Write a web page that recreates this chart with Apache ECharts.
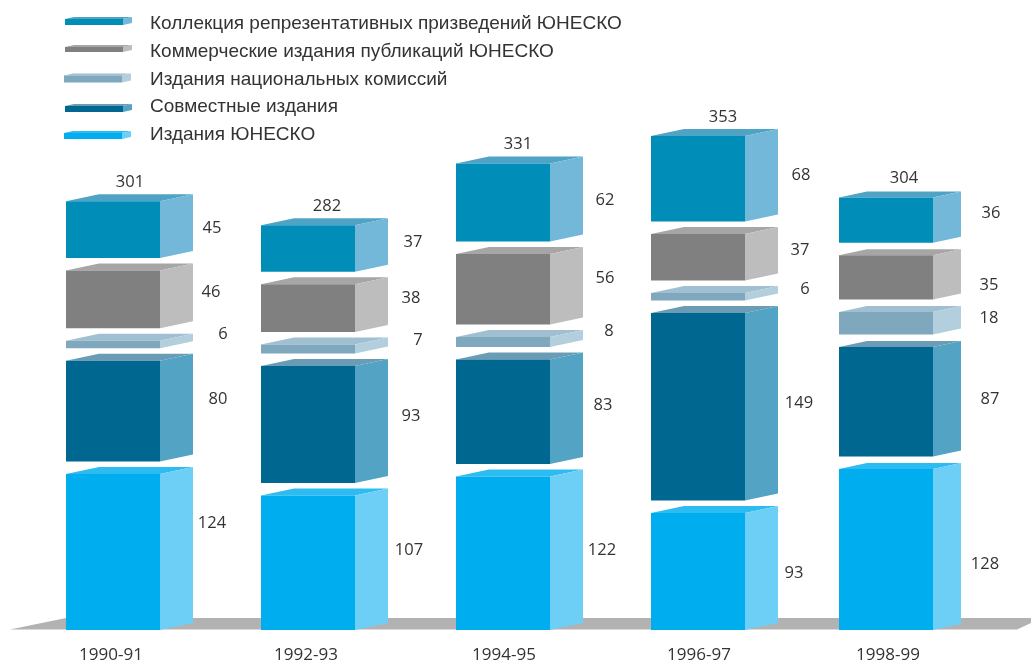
<!DOCTYPE html>
<html><head><meta charset="utf-8">
<style>html,body{margin:0;padding:0;background:#fff}#c{width:1031px;height:662px}</style>
<script src="https://cdn.jsdelivr.net/npm/echarts@6/dist/echarts.min.js"></script>
</head><body><div id="c"></div>
<script>
// ---- data ----
const periods = ['1990-91', '1992-93', '1994-95', '1996-97', '1998-99'];
const totals = [301, 282, 331, 353, 304];
const unescoEditions = [124, 107, 122, 93, 128];
const jointEditions = [80, 93, 83, 149, 87];
const nationalCommissions = [6, 7, 8, 6, 18];
const commercialEditions = [46, 38, 56, 37, 35];
const representativeCollection = [45, 37, 62, 68, 36];

// ---- names, bottom segment first ----
const layers = [
  {name: 'Издания ЮНЕСКО', values: unescoEditions, front: '#00aeef', side: '#6dcff6', top: '#2dbcf2'},
  {name: 'Совместные издания', values: jointEditions, front: '#006790', side: '#53a3c4', top: '#6a9db5'},
  {name: 'Издания национальных комиссий', values: nationalCommissions, front: '#7fa8bf', side: '#b3cedd', top: '#a0c0d1'},
  {name: 'Коммерческие издания публикаций ЮНЕСКО', values: commercialEditions, front: '#808080', side: '#bdbdbd', top: '#a6a6a6'},
  {name: 'Коллекция репрезентативных призведений ЮНЕСКО', values: representativeCollection, front: '#008db8', side: '#73b8d9', top: '#4fa3c5'}
];

// ---- drawing constants ----
const FONT = '"Open Sans", sans-serif';
const TEXT = '#333333';
const barW = 94, gapPx = 12.5;
const depthX = [33, 33, 33, 33, 28];
const depthY = [7, 7, 7, 7, 6];
const barShift = [0, 0, 0, 0, -7];
// hand placement of side labels, [dx from the side face, dy from the segment centre]
const sideNudge = [
  [[19, -29], [25, -12], [30, -10], [18, -7], [19, -1]],
  [[21, -12], [23, -8], [30, -9], [23, -10], [25, -6]],
  [[19, -3], [20, -7], [26, -11], [22, -11], [22, -2]],
  [[16, 2], [21, -3], [27, -7], [22, -7], [23, -3]],
  [[24, 15], [29, -2], [28, -5], [28, 8], [30, -7]]
];
const totalDx = [64, 66, 62, 72, 65];
const labelShift = [-2, -2, 1, 1, -5];

function makeRender(layerIndex) {
  const L = layers[layerIndex];
  return function (params, api) {
    const i = api.value(0), base = api.value(1), val = api.value(2);
    const cx = api.coord([i, 0])[0] + barShift[i];
    const x0 = cx - barW / 2, x1 = cx + barW / 2;
    const dX = depthX[i], dY = depthY[i];
    const yB = api.coord([i, base])[1] - layerIndex * gapPx;
    const yT = api.coord([i, base + val])[1] - layerIndex * gapPx;
    const poly = (pts, fill) => ({type: 'polygon', shape: {points: pts}, style: {fill}});
    const n = sideNudge[i][layerIndex];
    const children = [
      poly([[x0, yT], [x1, yT], [x1 + dX, yT - dY], [x0 + dX, yT - dY]], L.top),
      poly([[x1, yT], [x1 + dX, yT - dY], [x1 + dX, yB - dY], [x1, yB]], L.side),
      {type: 'rect', shape: {x: x0, y: yT, width: barW, height: yB - yT}, style: {fill: L.front}},
      {type: 'text', style: {
        text: String(val), x: x1 + dX + n[0], y: (yT + yB) / 2 + n[1],
        align: 'center', verticalAlign: 'middle', font: '16.5px ' + FONT, fill: TEXT}}
    ];
    if (layerIndex === layers.length - 1) {
      children.push({type: 'text', style: {
        text: String(totals[i]), x: x0 + totalDx[i], y: yT - 19,
        align: 'center', verticalAlign: 'middle', font: '16.5px ' + FONT, fill: TEXT}});
    }
    return {type: 'group', children};
  };
}

const running = periods.map(() => 0);
const series = layers.map((L, li) => {
  const data = L.values.map((v, i) => {
    const row = [i, running[i], v];
    running[i] += v;
    return row;
  });
  return {
    type: 'custom', name: L.name, data,
    encode: {x: 0, y: 2},
    itemStyle: {color: L.front},
    renderItem: makeRender(li),
    silent: true, clip: false
  };
});

// legend swatches: [left, front top, front height], top row first
const swatches = [[65, 19, 6], [65, 47, 5], [64, 75.5, 7], [65, 106, 6], [64, 133, 6]];
const legendGraphic = [];
layers.slice().reverse().forEach((L, k) => {
  const [x, y, h] = swatches[k];
  const x1 = x + 58;
  legendGraphic.push({type: 'polygon', z: 5, silent: true, shape: {points: [[x, y], [x1, y], [x1 + 9, y - 2], [x + 9, y - 2]]}, style: {fill: L.top}});
  legendGraphic.push({type: 'polygon', z: 5, silent: true, shape: {points: [[x1, y], [x1 + 9, y - 2], [x1 + 9, y + h - 2], [x1, y + h]]}, style: {fill: L.side}});
  legendGraphic.push({type: 'rect', z: 5, silent: true, shape: {x, y, width: 58, height: h}, style: {fill: L.front}});
});

const chart = echarts.init(document.getElementById('c'), null, {renderer: 'canvas'});
chart.setOption({
  animation: false,
  backgroundColor: '#ffffff',
  grid: {left: 15.5, right: 40.5, top: 1, bottom: 32, containLabel: false, outerBoundsMode: 'none'},
  xAxis: {
    type: 'category', data: periods,
    axisLine: {show: false}, axisTick: {show: false}, splitLine: {show: false},
    axisLabel: {
      margin: 17, interval: 0, color: TEXT, fontFamily: FONT, fontSize: 17,
      formatter: (v, i) => '{s' + i + '|' + v + '}',
      rich: Object.fromEntries(labelShift.map((d, i) => ['s' + i, {
        fontFamily: FONT, fontSize: 17, color: TEXT,
        padding: d < 0 ? [0, -2 * d, 0, 0] : [0, 0, 0, 2 * d]
      }]))
    }
  },
  yAxis: {type: 'value', min: 0, max: 500, show: false},
  legend: {
    show: true, orient: 'vertical', left: 60, top: 9,
    data: layers.map(L => L.name).reverse(),
    icon: 'rect', itemWidth: 58, itemHeight: 6, itemGap: 7.75,
    itemStyle: {opacity: 0},
    selectedMode: false,
    textStyle: {color: TEXT, fontFamily: '"Liberation Sans", Arial, sans-serif', fontSize: 19, lineHeight: 20, padding: [0, 0, 0, 22]}
  },
  graphic: [
    {type: 'polygon', z: 0, silent: true,
     shape: {points: [[10, 629.5], [66, 618], [1031, 618], [1031, 623], [1017, 629.5]]},
     style: {fill: '#b2b2b2'}},
    ...legendGraphic
  ],
  series
});
</script></body></html>
